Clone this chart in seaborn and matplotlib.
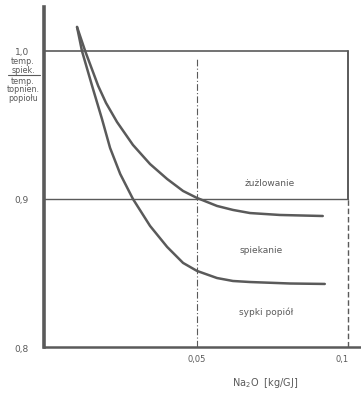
import matplotlib
matplotlib.use("Agg")
import matplotlib.pyplot as plt
import seaborn as sns
import pandas as pd

# Data (x: Na2O [kg/GJ], y: ratio of temperatures)
upper_x = [0.0086, 0.0114, 0.0159, 0.0186, 0.0224, 0.0279, 0.0338, 0.0397, 0.0452, 0.0500,
           0.0569, 0.0624, 0.0683, 0.0786, 0.0934]
upper_y = [1.0162, 1.0000, 0.9764, 0.9649, 0.9520, 0.9365, 0.9236, 0.9135, 0.9054, 0.9007,
           0.8953, 0.8926, 0.8905, 0.8892, 0.8885]
lower_x = [0.0086, 0.0103, 0.0138, 0.0172, 0.0200, 0.0235, 0.0279, 0.0338, 0.0397,
           0.0452, 0.0500, 0.0569, 0.0624, 0.0683, 0.0821, 0.0941]
lower_y = [1.0162, 1.0000, 0.9764, 0.9541, 0.9345, 0.9169, 0.9000, 0.8818, 0.8676,
           0.8568, 0.8514, 0.8466, 0.8446, 0.8439, 0.8429, 0.8426]

x_ticks = [0.05, 0.1]
x_tick_labels = ["0,05", "0,1"]
y_ticks = [0.8, 0.9, 1.0]
y_tick_labels = ["0,8", "0,9", "1,0"]
region_labels = ["żużlowanie", "spiekanie", "sypki popiół"]
region_x = [0.075, 0.072, 0.074]
region_y = [0.911, 0.866, 0.824]

df = pd.concat([
    pd.DataFrame({"x": upper_x, "y": upper_y, "curve": "upper"}),
    pd.DataFrame({"x": lower_x, "y": lower_y, "curve": "lower"}),
])

sns.set_style("white")
plt.rcParams["font.family"] = ["DejaVu Sans"]
gray = "#5a5a5a"

fig = plt.figure(figsize=(3.61, 4.02), dpi=100)
ax = fig.add_axes([44 / 361, 54 / 402, (361 - 44) / 361, (394 - 54) / 402])

sns.lineplot(data=df, x="x", y="y", hue="curve", palette={"upper": gray, "lower": gray},
             sort=False, estimator=None, linewidth=1.8, legend=False, ax=ax)
for ln in ax.lines:
    ln.set_solid_joinstyle("round")
    ln.set_solid_capstyle("round")

ax.set_xlim(-0.0028, 0.1066)
ax.set_ylim(0.8, 1.0297)

# frame lines
ax.plot([-0.0028, 0.102], [1.0, 1.0], color=gray, lw=1.2)
ax.plot([0.102, 0.102], [0.9, 1.0], color=gray, lw=1.4)
ax.plot([0.102, 0.102], [0.8, 0.9], color=gray, lw=1.0, ls=(0, (4, 2)))
ax.plot([-0.0028, 0.102], [0.9, 0.9], color=gray, lw=1.0)
ax.plot([0.05, 0.05], [0.8, 0.995], color=gray, lw=0.8, ls=(0, (6, 2, 1, 2)))

for s in ["top", "right"]:
    ax.spines[s].set_visible(False)
ax.spines["left"].set_linewidth(2.6)
ax.spines["left"].set_color(gray)
ax.spines["bottom"].set_linewidth(1.8)
ax.spines["bottom"].set_color(gray)

ax.set_xticks(x_ticks)
ax.set_xticklabels(x_tick_labels)
ax.set_yticks(y_ticks)
ax.set_yticklabels(y_tick_labels)
ax.tick_params(axis="x", direction="inout", length=6, width=1.2, color=gray,
               labelsize=6, labelcolor=gray, pad=2)
ax.tick_params(axis="y", direction="out", length=3, width=1.0, color=gray,
               labelsize=6.5, labelcolor=gray, pad=8)
ax.set_xlabel("")
ax.set_ylabel("")

for t, xx, yy in zip(region_labels, region_x, region_y):
    ax.text(xx, yy, t, fontsize=6.5, color=gray, ha="center", va="center")

fig.text(265 / 361, 1 - 383 / 402, "Na$_2$O  [kg/GJ]", fontsize=7, color=gray,
         ha="center", va="center")

# y-axis label as a fraction
fig.text(23 / 361, 1 - 66 / 402, "temp.\nspiek.", fontsize=5.8, color=gray,
         ha="center", va="center", linespacing=0.9)
fig.lines.append(plt.Line2D([8 / 361, 40 / 361], [1 - 76 / 402] * 2,
                            transform=fig.transFigure, color=gray, lw=0.8))
fig.text(23 / 361, 1 - 90 / 402, "temp.\ntopnien.\npopiołu", fontsize=5.8, color=gray,
         ha="center", va="center", linespacing=0.9)

fig.savefig("out.png", dpi=100, facecolor="white")
